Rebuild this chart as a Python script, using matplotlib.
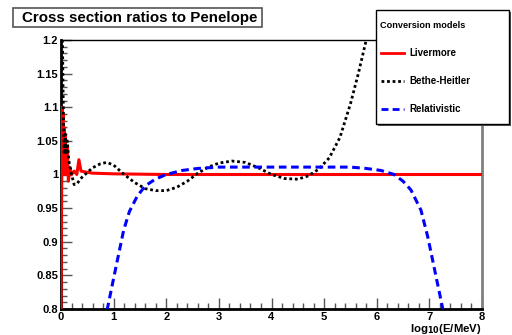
# 截面比值图 (ROOT 风格)

import matplotlib

matplotlib.use("Agg")
import matplotlib.pyplot as plt
from matplotlib.patches import Rectangle
from matplotlib.lines import Line2D
from matplotlib.ticker import MultipleLocator

plt.rcParams["font.family"] = ["Liberation Sans", "DejaVu Sans"]
plt.rcParams["font.weight"] = "bold"

# Livermore
liv_x = [0.0, 0.02, 0.03, 0.04, 0.05, 0.06, 0.07, 0.08, 0.09, 0.10, 0.12, 0.14,
         0.17, 0.20, 0.25, 0.30, 0.34, 0.38, 0.45, 0.6, 1.0, 2.0, 8.0]
liv_y = [0.78, 1.10, 1.08, 1.09, 1.03, 1.07, 1.00, 1.06, 1.02, 1.00, 1.04, 0.99,
         1.01, 1.00, 1.005, 1.00, 1.022, 1.005, 1.004, 1.002, 1.001, 1.0, 1.0]

# Bethe-Heitler
bh_x = [0.02, 0.04, 0.06, 0.08, 0.10, 0.12, 0.15, 0.20, 0.25, 0.30, 0.40, 0.50,
        0.60, 0.75, 0.87, 1.0, 1.2, 1.4, 1.6, 1.8, 2.0, 2.2, 2.4, 2.6, 2.8,
        3.0, 3.25, 3.5, 3.75, 4.0, 4.25, 4.5, 4.7, 4.9, 5.1, 5.3, 5.5, 5.65,
        5.8, 5.9]
bh_y = [1.25, 1.12, 1.03, 1.06, 1.03, 1.05, 1.02, 1.00, 0.985, 0.986, 0.996,
        1.003, 1.010, 1.016, 1.018, 1.014, 1.000, 0.988, 0.979, 0.976, 0.976,
        0.981, 0.990, 1.002, 1.011, 1.017, 1.020, 1.018, 1.010, 1.000, 0.994,
        0.993, 0.998, 1.008, 1.025, 1.055, 1.105, 1.150, 1.200, 1.240]

# Relativistic
rel_x = [0.85, 0.88, 1.03, 1.19, 1.30, 1.45, 1.60, 1.79, 2.0, 2.3, 2.6, 3.0,
         4.0, 5.0, 5.5, 5.8, 6.08, 6.33, 6.5, 6.65, 6.84, 6.97, 7.09, 7.25, 7.28]
rel_y = [0.78, 0.80, 0.857, 0.917, 0.945, 0.968, 0.983, 0.993, 1.000, 1.006,
         1.009, 1.011, 1.011, 1.011, 1.011, 1.009, 1.006, 1.000, 0.990, 0.977,
         0.947, 0.907, 0.862, 0.802, 0.79]

fig = plt.figure(figsize=(5.12, 3.35), dpi=100)
ax = fig.add_axes([61 / 512, 1 - 309 / 335, 421 / 512, 269 / 335])

ax.plot(liv_x, liv_y, color="red", lw=2.2, zorder=3)
ax.plot(bh_x, bh_y, color="black", lw=2.0, ls=(0, (1, 1)), zorder=4)
ax.plot(rel_x, rel_y, color="blue", lw=2.2, ls=(0, (2.5, 1.5)), zorder=5)

ax.set_xlim(0, 8)
ax.set_ylim(0.8, 1.2)
ax.xaxis.set_minor_locator(MultipleLocator(0.2))
ax.yaxis.set_minor_locator(MultipleLocator(0.01))
ax.set_yticks([0.8, 0.85, 0.9, 0.95, 1.0, 1.05, 1.1, 1.15, 1.2])
ax.set_yticklabels(["0.8", "0.85", "0.9", "0.95", "1", "1.05", "1.1", "1.15", "1.2"])
ax.set_xticks(range(9))
ax.set_xticklabels([str(i) for i in range(9)])
ax.tick_params(which="major", direction="in", length=8, width=1, color="#555555",
               labelsize=8, pad=2)
ax.tick_params(which="minor", direction="in", length=4, width=1, color="#555555")
ax.tick_params(top=False, right=False)
for lab in ax.get_xticklabels() + ax.get_yticklabels():
    lab.set_fontweight("bold")

ax.spines["left"].set_linewidth(2)
ax.spines["bottom"].set_linewidth(2)
ax.spines["top"].set_linewidth(1)
ax.spines["right"].set_linewidth(2)
ax.spines["right"].set_color("#808080")

ax.text(1.0, -0.0855, "log$_{\\mathbf{10}}$(E/MeV)", transform=ax.transAxes,
        ha="right", va="baseline", fontsize=8.2, fontweight="bold")

# 标题框
fig.patches.append(Rectangle((13 / 512, 1 - 27 / 335), 249 / 512, 19 / 335,
                             transform=fig.transFigure, facecolor="white",
                             edgecolor="#555555", lw=1.2))
fig.text(22 / 512, 1 - 18 / 335, "Cross section ratios to Penelope",
         ha="left", va="center", fontsize=10.9, fontweight="bold")

# 图例框
fig.patches.append(Rectangle((378 / 512, 1 - 126 / 335), 133 / 512, 114 / 335,
                             transform=fig.transFigure, facecolor="#555555",
                             edgecolor="none", zorder=5))
fig.patches.append(Rectangle((376 / 512, 1 - 124 / 335), 133 / 512, 114 / 335,
                             transform=fig.transFigure, facecolor="white",
                             edgecolor="black", lw=1, zorder=6))
fig.text(380 / 512, 1 - 25 / 335, "Conversion models", ha="left", va="center",
         fontsize=6.6, fontweight="bold", zorder=7)
entries = [("Livermore", "red", "-", 53), ("Bethe-Heitler", "black", (0, (1, 1)), 81),
           ("Relativistic", "blue", (0, (2.5, 1.5)), 109)]
for name, col, ls, yy in entries:
    fig.lines.append(Line2D([381 / 512, 404 / 512], [1 - yy / 335, 1 - yy / 335],
                            transform=fig.transFigure, color=col, lw=2, ls=ls, zorder=7))
    fig.text(409 / 512, 1 - yy / 335, name, ha="left", va="center",
             fontsize=7.0, fontweight="bold", zorder=7)

plt.savefig("out.png", dpi=100)
plt.close()
